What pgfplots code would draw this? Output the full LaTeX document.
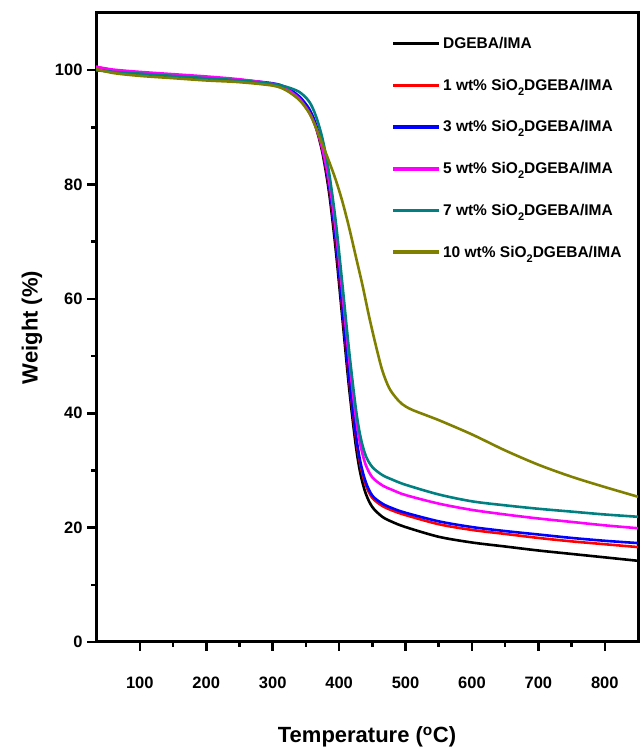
\documentclass[border=0pt]{standalone}
\usepackage{pgfplots}
\pgfplotsset{compat=1.18}
\usepackage{fontspec}
\setmainfont{Liberation Sans}
\definecolor{cteal}{RGB}{0,128,128}
\definecolor{colive}{RGB}{128,128,0}
\definecolor{cmag}{RGB}{255,0,255}
\newcommand{\sub}{\raisebox{-5pt}{\fontsize{11}{11}\selectfont 2}}
\begin{document}
\begin{tikzpicture}
\path[use as bounding box] (0,0) rectangle (642pt,752pt);
\begin{axis}[
  at={(96pt,110pt)}, anchor=south west,
  scale only axis, width=542pt, height=629pt,
  xmin=34, xmax=850, ymin=0, ymax=110,
  xtick={100,200,...,800}, ytick={0,20,...,100},
  minor x tick num=1, minor y tick num=1,
  tick pos=left, tick align=outside,
  major tick length=9pt, minor tick length=5pt,
  every tick/.style={black, line width=2.5pt},
  axis line style={line width=3pt},
  /pgf/number format/assume math mode=true,
  ticklabel style={font=\fontsize{16.5}{19}\selectfont\bfseries},
  xticklabel style={yshift=-22pt},
  yticklabel style={xshift=-1pt},
  xlabel={Temperature (\textsuperscript{o}C)},
  ylabel={Weight (\%)},
  every axis x label/.style={at={(axis description cs:0.5,-0.151)}, anchor=center, font=\fontsize{22}{26}\selectfont\bfseries},
  every axis y label/.style={at={(axis description cs:-0.118,0.5)}, rotate=90, anchor=center, font=\fontsize{22}{26}\selectfont\bfseries},
  legend style={draw=none, fill=none, at={(0.545,0.965)}, anchor=north west,
    font=\fontsize{15.5}{18}\selectfont\bfseries, row sep=25pt, inner sep=0pt,
    /tikz/every even column/.append style={column sep=3pt}},
  legend cell align=left,
  legend image code/.code={\draw[#1, line width=3.5pt] (0pt,0pt) -- (46pt,0pt);},
  every axis plot/.append style={line width=2.6pt, smooth, no marks},
]
\addplot[black] coordinates {
(34,100.1) (60,99.7) (100,99.3) (150,98.9) (200,98.5) (250,98.1) (300,97.4) (320,96.6) (340,95.0) (355,92.8) (365,90.0) (375,85.5) (385,78.5) (395,68.5) (405,56.5) (415,44.5) (425,34.5) (432,29.5) (440,26.0) (450,23.6) (465,21.9) (480,21.0) (500,20.1) (550,18.4) (600,17.4) (650,16.7) (700,16.0) (750,15.4) (800,14.8) (850,14.2)};
\addlegendentry{DGEBA/IMA}
\addplot[red] coordinates {
(34,100.6) (60,100.0) (100,99.6) (150,99.1) (200,98.7) (250,98.3) (300,97.6) (320,96.9) (340,95.3) (355,93.1) (365,90.4) (375,86.0) (385,79.5) (395,70.0) (405,58.0) (415,46.0) (425,36.0) (432,31.0) (440,27.5) (450,25.2) (465,23.8) (480,23.0) (500,22.2) (550,20.6) (600,19.6) (650,18.9) (700,18.2) (750,17.6) (800,17.1) (850,16.6)};
\addlegendentry{1 wt\% SiO\sub DGEBA/IMA}
\addplot[blue] coordinates {
(34,100.0) (60,99.8) (100,99.5) (150,99.1) (200,98.7) (250,98.3) (300,97.7) (320,97.0) (340,95.4) (355,93.2) (365,90.5) (375,86.2) (385,79.8) (395,70.5) (405,58.5) (415,46.5) (425,36.5) (432,31.5) (440,28.0) (450,25.6) (465,24.2) (480,23.4) (500,22.6) (550,21.1) (600,20.1) (650,19.4) (700,18.8) (750,18.2) (800,17.7) (850,17.3)};
\addlegendentry{3 wt\% SiO\sub DGEBA/IMA}
\addplot[cmag] coordinates {
(34,100.6) (60,100.1) (100,99.7) (150,99.3) (200,98.9) (250,98.4) (300,97.6) (320,96.8) (340,95.0) (355,92.6) (365,90.0) (375,86.2) (385,80.5) (395,72.0) (405,61.0) (415,49.5) (425,39.5) (432,34.5) (440,31.0) (450,28.8) (465,27.4) (480,26.6) (500,25.7) (550,24.2) (600,23.1) (650,22.3) (700,21.6) (750,21.0) (800,20.4) (850,19.9)};
\addlegendentry{5 wt\% SiO\sub DGEBA/IMA}
\addplot[cteal] coordinates {
(34,100.0) (60,99.7) (100,99.4) (150,99.0) (200,98.6) (250,98.2) (300,97.6) (320,97.1) (340,96.2) (355,94.5) (365,92.0) (375,88.0) (385,82.0) (395,73.5) (405,62.5) (415,51.0) (425,41.0) (432,36.0) (440,32.6) (450,30.6) (465,29.2) (480,28.4) (500,27.5) (550,25.8) (600,24.6) (650,23.9) (700,23.3) (750,22.8) (800,22.3) (850,21.9)};
\addlegendentry{7 wt\% SiO\sub DGEBA/IMA}
\addplot[colive] coordinates {
(34,100.2) (60,99.5) (100,99.0) (150,98.6) (200,98.2) (250,97.9) (300,97.3) (320,96.5) (340,94.8) (355,92.5) (365,90.0) (375,87.0) (385,84.0) (395,80.8) (405,77.0) (415,72.5) (425,67.5) (435,62.5) (445,57.0) (455,52.0) (465,47.5) (475,44.5) (485,42.8) (495,41.6) (510,40.6) (550,38.8) (600,36.3) (650,33.5) (700,31.0) (750,28.9) (800,27.1) (850,25.4)};
\addlegendentry{10 wt\% SiO\sub DGEBA/IMA}
\end{axis}
\end{tikzpicture}
\end{document}
